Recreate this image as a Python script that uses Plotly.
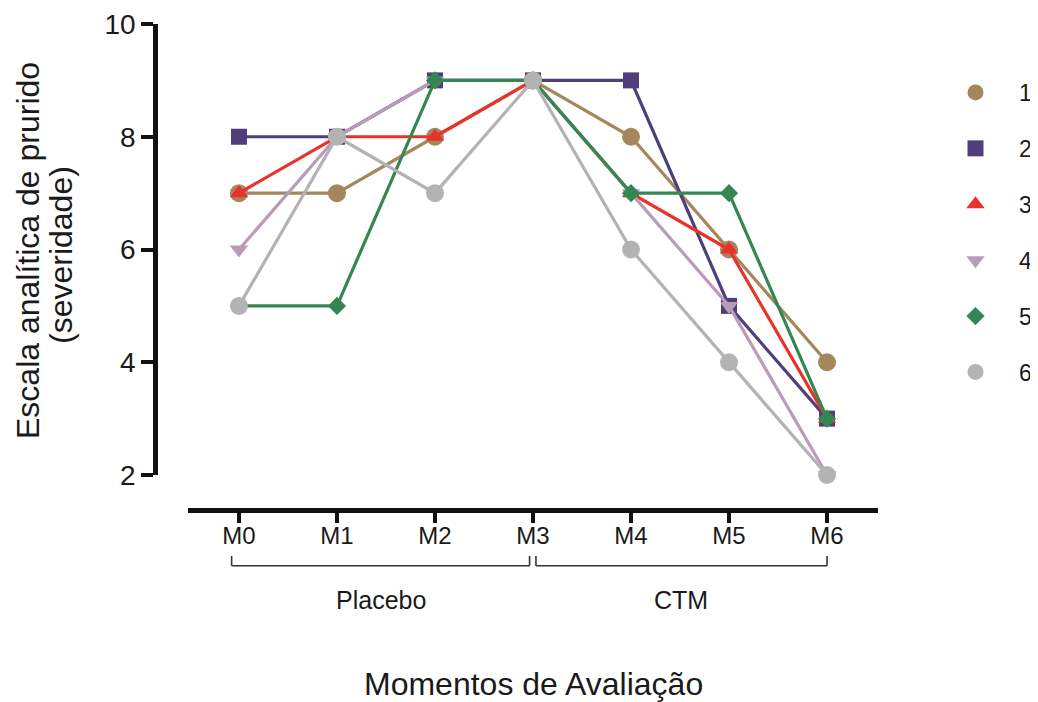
import plotly.graph_objects as go

# ---- data ----
moments = ["M0", "M1", "M2", "M3", "M4", "M5", "M6"]
series_names = ["1", "2", "3", "4", "5", "6"]
s1 = [7, 7, 8, 9, 8, 6, 4]
s2 = [8, 8, 9, 9, 9, 5, 3]
s3 = [7, 8, 8, 9, 7, 6, 3]
s4 = [6, 8, 9, 9, 7, 5, 2]
s5 = [5, 5, 9, 9, 7, 7, 3]
s6 = [5, 8, 7, 9, 6, 4, 2]
y_ticks = [2, 4, 6, 8, 10]
group_labels = ["Placebo", "CTM"]

series = [s1, s2, s3, s4, s5, s6]
colors = ["#A5875E", "#4E3F7C", "#E8322B", "#B89CB8", "#348752", "#B3B3B3"]
symbols = ["circle", "square", "triangle-up", "triangle-down", "diamond", "circle"]
sizes = [18, 16, 16, 16, 14, 18]

FONT = "Arial, Liberation Sans, sans-serif"

fig = go.Figure()
for name, ys, c, sym, sz in zip(series_names, series, colors, symbols, sizes):
    fig.add_trace(go.Scatter(
        x=moments, y=ys, mode="lines+markers", name=name, showlegend=False,
        line=dict(color=c, width=3.2),
        marker=dict(symbol=sym, size=sz, color=c, line=dict(width=0)),
        cliponaxis=False,
    ))
for name, c, sym, sz in zip(series_names, colors, symbols, sizes):
    fig.add_trace(go.Scatter(
        x=[None], y=[None], mode="markers", name=name, legendgroup=name,
        marker=dict(symbol=sym, size=sz, color=c, line=dict(width=0)),
    ))

H = 486.0  # plot height in px
W = 723.0

# page body has an 8px default margin -> origin shifted by 8px; compensate
fig.update_layout(
    width=1038, height=702,
    margin=dict(l=147, r=168, t=16, b=200, pad=0, autoexpand=False),
    paper_bgcolor="white", plot_bgcolor="white",
    font=dict(family=FONT, color="#1a1a1a"),
    xaxis=dict(
        type="category", range=[-0.52, 6.52], automargin=False,
        domain=[33 / W, 1], anchor="free", position=0,
        showline=True, linewidth=5, linecolor="#111111",
        ticks="outside", ticklen=10, tickwidth=4, tickcolor="#111111",
        ticklabelstandoff=-8,
        tickfont=dict(size=24, family=FONT, color="#1a1a1a"),
        showgrid=False, zeroline=False,
    ),
    yaxis=dict(
        range=[2, 10], domain=[35 / H, 1], anchor="free", position=0,
        tickvals=y_ticks, automargin=False,
        showline=True, linewidth=4.5, linecolor="#111111",
        ticks="outside", ticklen=12, tickwidth=4, tickcolor="#111111",
        tickfont=dict(size=28, family=FONT, color="#1a1a1a"),
        showgrid=False, zeroline=False,
    ),
    legend=dict(
        x=(932 - 155) / W, y=(510 - 71) / H, xanchor="left", yanchor="top",
        font=dict(size=23, family=FONT, color="#1a1a1a"),
        traceorder="grouped", tracegroupgap=23, itemwidth=77,
        bgcolor="rgba(0,0,0,0)",
    ),
)

# brackets under the x axis
y_bot = (510 - 565.7) / H
y_top = (510 - 556) / H
brackets = [(-0.075, 2.965), (3.03, 6.0)]
for (a, b), lab in zip(brackets, group_labels):
    for x0, y0, x1, y1 in [(a, y_top, a, y_bot), (a, y_bot, b, y_bot), (b, y_bot, b, y_top)]:
        fig.add_shape(type="line", xref="x", yref="paper", x0=x0, x1=x1, y0=y0, y1=y1,
                      line=dict(color="#333333", width=1.6))
    fig.add_annotation(x=(a + b) / 2, xref="x", y=(510 - 600) / H, yref="paper",
                       text=lab, showarrow=False, xanchor="center", yanchor="middle",
                       font=dict(size=25, family=FONT, color="#1a1a1a"))

# axis titles
fig.add_annotation(x=(533 - 155) / W, xref="paper", y=(510 - 684) / H, yref="paper",
                   text="Momentos de Avaliação", showarrow=False,
                   xanchor="center", yanchor="middle",
                   font=dict(size=32, family=FONT, color="#1a1a1a"))
fig.add_annotation(x=(28 - 155) / W, xref="paper", y=(510 - 251) / H, yref="paper",
                   text="Escala analítica de prurido", showarrow=False, textangle=-90,
                   xanchor="center", yanchor="middle",
                   font=dict(size=32, family=FONT, color="#1a1a1a"))
fig.add_annotation(x=(61 - 155) / W, xref="paper", y=(510 - 255) / H, yref="paper",
                   text="(severidade)", showarrow=False, textangle=-90,
                   xanchor="center", yanchor="middle",
                   font=dict(size=32, family=FONT, color="#1a1a1a"))

fig.write_html("out.html")
